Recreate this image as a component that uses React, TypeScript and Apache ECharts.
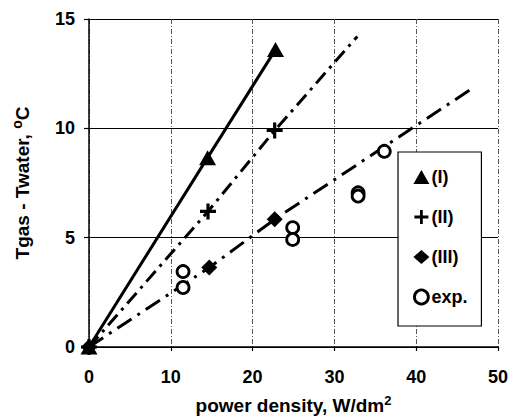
import React, { useEffect, useRef } from "react";
import * as echarts from "echarts";

// Temperature difference vs. power density: three model curves and measured points
const xTickValues = [0, 10, 20, 30, 40, 50];
const yTickValues = [0, 5, 10, 15];

const modelI: number[][] = [
  [0, 0],
  [14.5, 8.66],
  [22.8, 13.6],
];
const modelII: number[][] = [
  [0, 0],
  [14.55, 6.2],
  [22.7, 9.9],
];
const modelIIFitEnd = [32.8, 14.2];
const modelIII: number[][] = [
  [0, 0],
  [14.7, 3.63],
  [22.7, 5.84],
];
const modelIIIFitEnd = [46.9, 11.84];
const experiment: number[][] = [
  [11.5, 3.45],
  [11.5, 2.72],
  [24.9, 5.46],
  [24.9, 4.92],
  [32.9, 7.05],
  [32.9, 6.9],
  [36.1, 8.95],
];

const seriesNames = ["(I)", "(II)", "(III)", "exp."];

const FONT = "'Liberation Sans', Arial, sans-serif";
const PLUS = "path://M0.4,0 H0.6 V0.4 H1 V0.6 H0.6 V1 H0.4 V0.6 H0 V0.4 H0.4 Z";

export default function App() {
  const ref = useRef<HTMLDivElement>(null);

  useEffect(() => {
    if (!ref.current) return;
    const chart = echarts.init(ref.current, null, { renderer: "svg" });

    const withEnd = (pts: number[][], end: number[]) => [
      ...pts.map((p) => ({ value: p })),
      { value: end, symbol: "none" },
    ];

    const axisText = { fontFamily: FONT, fontSize: 18, fontWeight: "bold", color: "#000" };

    chart.setOption({
      animation: false,
      backgroundColor: "#fff",
      textStyle: { fontFamily: FONT, color: "#000" },
      grid: { left: 89, right: 11, top: 19, bottom: 72, containLabel: false },
      xAxis: {
        type: "value",
        min: xTickValues[0],
        max: xTickValues[xTickValues.length - 1],
        interval: 10,
        name: "power density, W/dm{sup|2}",
        nameLocation: "middle",
        nameGap: 47,
        nameTextStyle: {
          fontFamily: FONT,
          fontSize: 19,
          fontWeight: "bold",
          color: "#000",
          rich: {
            sup: {
              fontFamily: FONT,
              fontSize: 13,
              fontWeight: "bold",
              color: "#000",
              verticalAlign: "top",
              padding: [0, 0, 10, 0],
            },
          },
        },
        axisLine: { lineStyle: { color: "#000", width: 1.5 } },
        axisTick: { show: true, inside: false, length: 4, lineStyle: { color: "#000", width: 1.2 } },
        axisLabel: { ...axisText, margin: 21 },
        splitLine: { show: true, lineStyle: { color: "#555", width: 1, type: [5, 2, 1, 2] } },
      },
      yAxis: {
        type: "value",
        min: yTickValues[0],
        max: yTickValues[yTickValues.length - 1],
        interval: 5,
        name: "Tgas - Twater, {sup|o}C",
        nameLocation: "middle",
        nameGap: 55,
        nameRotate: 90,
        nameTextStyle: {
          fontFamily: FONT,
          fontSize: 19,
          fontWeight: "bold",
          color: "#000",
          rich: {
            sup: {
              fontFamily: FONT,
              fontSize: 14,
              fontWeight: "bold",
              color: "#000",
              padding: [0, 0, 10, 0],
            },
          },
        },
        axisLine: { lineStyle: { color: "#000", width: 1.5 } },
        axisTick: { show: true, inside: false, length: 5, lineStyle: { color: "#000", width: 1.2 } },
        axisLabel: { ...axisText, margin: 14 },
        splitLine: { show: true, lineStyle: { color: "#000", width: 1.2, type: "solid" } },
      },
      legend: {
        orient: "vertical",
        left: 398,
        top: 152,
        backgroundColor: "#fff",
        borderColor: "#000",
        borderWidth: 1.2,
        borderRadius: 0,
        padding: [16, 14, 20, 15],
        itemWidth: 16,
        itemHeight: 14,
        itemGap: 22,
        textStyle: {
          fontFamily: FONT,
          fontSize: 18,
          fontWeight: "bold",
          color: "#000",
          lineHeight: 18,
          padding: [0, 0, 0, -3],
        },
        data: [
          { name: seriesNames[0], icon: "triangle", itemStyle: { color: "#000", opacity: 1 } },
          { name: seriesNames[1], icon: PLUS, itemStyle: { color: "#000", opacity: 1 } },
          { name: seriesNames[2], icon: "diamond", itemStyle: { color: "#000", opacity: 1 } },
          {
            name: seriesNames[3],
            icon: "circle",
            itemStyle: { color: "#fff", borderColor: "#000", borderWidth: 2.8, opacity: 1 },
          },
        ],
      },
      series: [
        {
          name: seriesNames[0],
          type: "line",
          data: modelI,
          symbol: "triangle",
          symbolSize: [17, 15],
          itemStyle: { color: "#000" },
          lineStyle: { color: "#000", width: 3, type: "solid" },
          z: 3,
        },
        {
          name: seriesNames[1],
          type: "line",
          data: withEnd(modelII, modelIIFitEnd),
          symbol: PLUS,
          symbolSize: 16,
          itemStyle: { color: "#000" },
          lineStyle: { color: "#000", width: 3, type: [14, 6, 3, 6] },
          z: 3,
        },
        {
          name: seriesNames[2],
          type: "line",
          data: withEnd(modelIII, modelIIIFitEnd),
          symbol: "diamond",
          symbolSize: 16,
          itemStyle: { color: "#000" },
          lineStyle: { color: "#000", width: 3, type: [17, 7, 3, 7] },
          z: 3,
        },
        {
          name: seriesNames[3],
          type: "scatter",
          data: experiment,
          symbol: "circle",
          symbolSize: 12,
          itemStyle: { color: "#fff", borderColor: "#000", borderWidth: 2.8, opacity: 1 },
          z: 4,
        },
      ],
    });

    return () => chart.dispose();
  }, []);

  return (
    <div
      ref={ref}
      style={{ position: "absolute", left: 0, top: 0, width: 511, height: 420, background: "#fff" }}
    />
  );
}
